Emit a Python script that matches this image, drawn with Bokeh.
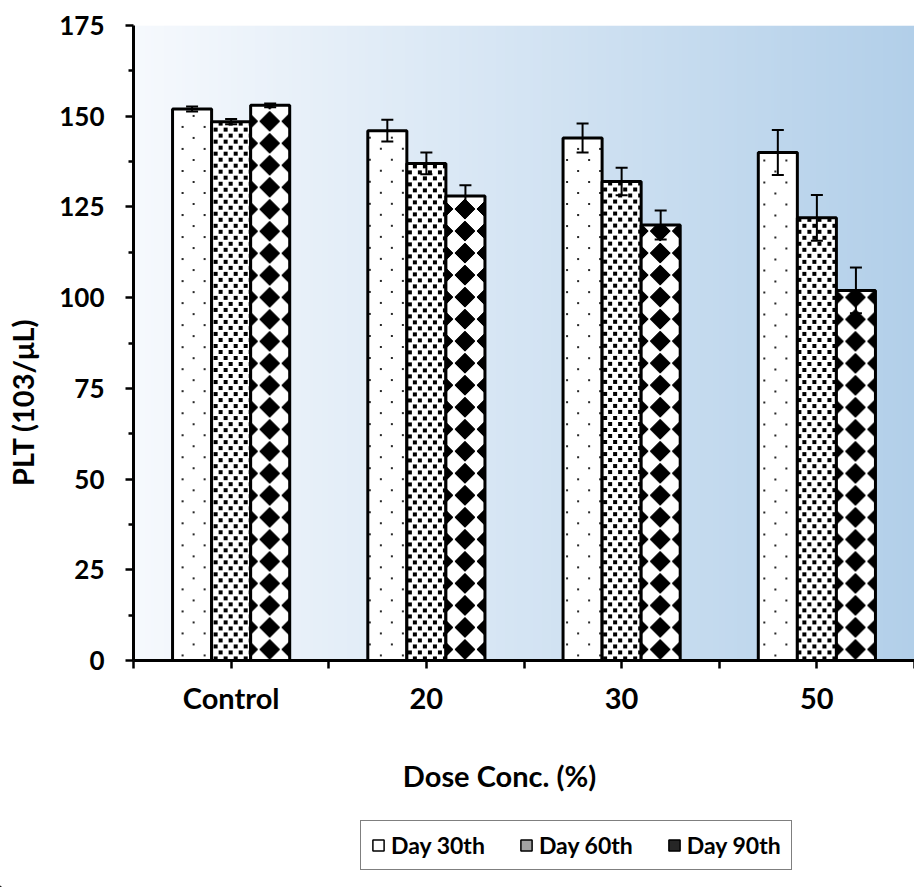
import math
import numpy as np
from bokeh.plotting import figure
from bokeh.layouts import column, row
from bokeh.models import (ColumnDataSource, FixedTicker, Whisker, TeeHead, Legend,
                          LegendItem, Range1d, Label)
from bokeh.embed import file_html
from bokeh.resources import INLINE

# ---------------- data ----------------
categories = ["Control", "20", "30", "50"]
series = ["Day 30th", "Day 60th", "Day 90th"]
day30 = [152.0, 146.0, 144.0, 140.0]
day60 = [148.5, 137.0, 132.0, 122.0]
day90 = [153.0, 128.0, 120.0, 102.0]
err30 = [0.7, 3.0, 4.0, 6.2]
err60 = [0.7, 3.0, 3.8, 6.3]
err90 = [0.5, 3.0, 4.0, 6.3]
y_ticks = [0, 25, 50, 75, 100, 125, 150, 175]
y_title = "PLT (103/μL)"
x_title = "Dose Conc. (%)"

FONT = "Lato"
FS_NUM = "26px"
FS_TXT = "29px"
FS_LEG = "23px"

# ---------------- layout sizes (px) ----------------
W_LEFT = 56
W_MAIN = 858
H_MAIN = 724
W_ALL = W_LEFT + W_MAIN
H_BOTTOM = 887 - H_MAIN
B_LEFT, B_TOP, B_BOTTOM = 75, 25, 64
X0, X1 = 0.5, 4.5
Y0, Y1 = 0.0, 175.0

p = figure(width=W_MAIN, height=H_MAIN, x_range=Range1d(X0, X1), y_range=Range1d(Y0, Y1),
           output_backend="svg", toolbar_location=None,
           min_border_left=B_LEFT, min_border_right=0, min_border_top=B_TOP,
           min_border_bottom=B_BOTTOM)
p.grid.visible = False
p.outline_line_color = None
p.background_fill_color = "white"
p.border_fill_color = "white"

# pixel scale of the frame
frame_w = W_MAIN - B_LEFT
frame_h = H_MAIN - B_TOP - B_BOTTOM
sx = frame_w / (X1 - X0)
sy = frame_h / (Y1 - Y0)

# ---------------- background gradient ----------------
N = 256
t = np.linspace(0.0, 1.0, N)
c_left = np.array([246, 249, 253])
c_right = np.array([178, 207, 233])
bg = np.empty((1, N, 4), dtype=np.uint8)
for k in range(3):
    bg[0, :, k] = np.round(c_left[k] + (c_right[k] - c_left[k]) * t).astype(np.uint8)
bg[0, :, 3] = 255
p.image_rgba(image=[bg.view(np.uint32).reshape(1, N)], x=X0, y=Y0, dw=X1 - X0, dh=Y1 - Y0,
             level="image")

# ---------------- fill patterns (bitmaps in screen pixels) ----------------
def pattern_mask(kind, GX, GY):
    if kind == 0:      # sparse staggered dots
        mx, my = GX % 22, GY % 22
        return (((mx >= 4) & (mx < 6) & (my >= 4) & (my < 6)) |
                ((mx >= 15) & (mx < 17) & (my >= 15) & (my < 17)))
    if kind == 1:      # staggered small squares
        mx, my = GX % 10, GY % 12
        return (((mx >= 0) & (mx < 4) & (my >= 0) & (my < 4)) |
                ((mx >= 5) & (mx < 9) & (my >= 6) & (my < 10)))
    mx, my = GX % 22, GY % 22   # diamonds, one column centred in the bar
    d = np.abs(mx + 0.5 - 11) + np.abs(my + 0.5 - 11)
    return d <= 10.3


def pattern_image(kind, left, top):
    wpx = max(1, int(round(bar_w * sx)))
    hpx = max(1, int(round((top - Y0) * sy)))
    if kind == 2:
        gx = np.arange(wpx) - wpx // 2 + 11
    else:
        gx = np.floor((left - X0) * sx + np.arange(wpx)).astype(int)
    gy = np.arange(hpx)
    GX, GY = np.meshgrid(gx, gy)
    m = pattern_mask(kind, GX, GY)
    rgba = np.full((hpx, wpx, 4), 255, dtype=np.uint8)
    ink = 40 if kind == 0 else 0
    rgba[m, 0] = ink
    rgba[m, 1] = ink
    rgba[m, 2] = ink
    return rgba.view(np.uint32).reshape(hpx, wpx)


xpos = np.arange(1, len(categories) + 1, dtype=float)
offsets = [-0.2, 0.0, 0.2]
bar_w = 0.2
vals = [day30, day60, day90]
errs = [err30, err60, err90]
legend_fill = ["white", "#a4a4a4", "#262626"]

# bottom strip (x title + legend)
p2 = figure(width=W_ALL, height=H_BOTTOM, x_range=Range1d(0, W_ALL), y_range=Range1d(0, H_BOTTOM),
            output_backend="svg", toolbar_location=None, x_axis_type=None, y_axis_type=None,
            min_border=0)
p2.grid.visible = False
p2.outline_line_color = None
p2.background_fill_color = "white"
p2.border_fill_color = "white"

legend_items = []
for j, name in enumerate(series):
    x = xpos + offsets[j]
    top = np.array(vals[j])
    e = np.array(errs[j])
    lefts = x - bar_w / 2
    imgs = [pattern_image(j, lefts[i], top[i]) for i in range(len(x))]
    p.image_rgba(image=imgs, x=list(lefts), y=[Y0] * len(x), dw=[bar_w] * len(x),
                 dh=list(top - Y0))
    src = ColumnDataSource(dict(x=x, top=top, upper=top + e, lower=top - e))
    p.vbar(x="x", top="top", width=bar_w, source=src, fill_color=None,
           line_color="black", line_width=3)
    w = Whisker(source=src, base="x", upper="upper", lower="lower", dimension="height",
                line_color="black", line_width=2, level="annotation",
                upper_head=TeeHead(size=12, line_width=2, line_color="black"),
                lower_head=TeeHead(size=12, line_width=2, line_color="black"))
    p.add_layout(w)
    # legend proxy: one bar placed outside the visible range of the legend strip
    dummy = p2.vbar(x=[-1000.0], top=[1.0], width=1, fill_color=legend_fill[j],
                    line_color="black", line_width=1.5)
    legend_items.append(LegendItem(label=name, renderers=[dummy]))

# ---------------- axes ----------------
xa = p.xaxis[0]
xa.ticker = FixedTicker(ticks=list(xpos), minor_ticks=[v - 0.5 for v in xpos] + [xpos[-1] + 0.5])
xa.major_label_overrides = {float(xpos[i]): c for i, c in enumerate(categories)}
xa.axis_line_width = 3
xa.major_tick_line_width = 2.5
xa.minor_tick_line_width = 2.5
xa.major_tick_out = 8
xa.major_tick_in = 0
xa.minor_tick_out = 8
xa.minor_tick_in = 0
xa.major_label_standoff = 11
xa.major_label_text_font = FONT
xa.major_label_text_font_style = "bold"
xa.major_label_text_font_size = FS_TXT
xa.major_label_text_color = "black"

ya = p.yaxis[0]
ya.ticker = FixedTicker(ticks=y_ticks,
                        minor_ticks=[(y_ticks[i] + y_ticks[i + 1]) / 2 for i in range(len(y_ticks) - 1)])
ya.axis_line_width = 3
ya.major_tick_line_width = 2.5
ya.minor_tick_line_width = 2.5
ya.major_tick_out = 8
ya.major_tick_in = 0
ya.minor_tick_out = 5
ya.minor_tick_in = 0
ya.major_label_standoff = 21
ya.major_label_text_font = FONT
ya.major_label_text_font_style = "bold"
ya.major_label_text_font_size = FS_NUM
ya.major_label_text_color = "black"

# ---------------- left strip (y title) ----------------
pl = figure(width=W_LEFT, height=H_MAIN, x_range=Range1d(0, W_LEFT), y_range=Range1d(0, H_MAIN),
            output_backend="svg", toolbar_location=None, x_axis_type=None, y_axis_type=None,
            min_border=0)
pl.grid.visible = False
pl.outline_line_color = None
pl.background_fill_color = "white"
pl.border_fill_color = "white"
pl.add_layout(Label(x=22, y=H_MAIN - 430, text=y_title, angle=math.pi / 2,
                    text_align="center", text_baseline="middle",
                    text_font=FONT, text_font_style="bold", text_font_size=FS_TXT,
                    text_color="black"))

# ---------------- bottom strip contents ----------------
p2.add_layout(Label(x=499, y=112, text=x_title,
                    text_align="center", text_baseline="middle",
                    text_font=FONT, text_font_style="bold", text_font_size=FS_TXT,
                    text_color="black"))
legend = Legend(items=legend_items, orientation="horizontal", location=(360, 17),
                label_text_font=FONT, label_text_font_style="bold", label_text_font_size=FS_LEG,
                label_text_color="black", glyph_width=14, glyph_height=14,
                label_standoff=6, spacing=34, padding=10, margin=0,
                border_line_color="black", border_line_width=1.5,
                background_fill_color="white", background_fill_alpha=1.0)
p2.add_layout(legend)

layout = column(row(pl, p, spacing=0), p2, spacing=0)
open("out.html", "w").write(file_html(layout, INLINE))
